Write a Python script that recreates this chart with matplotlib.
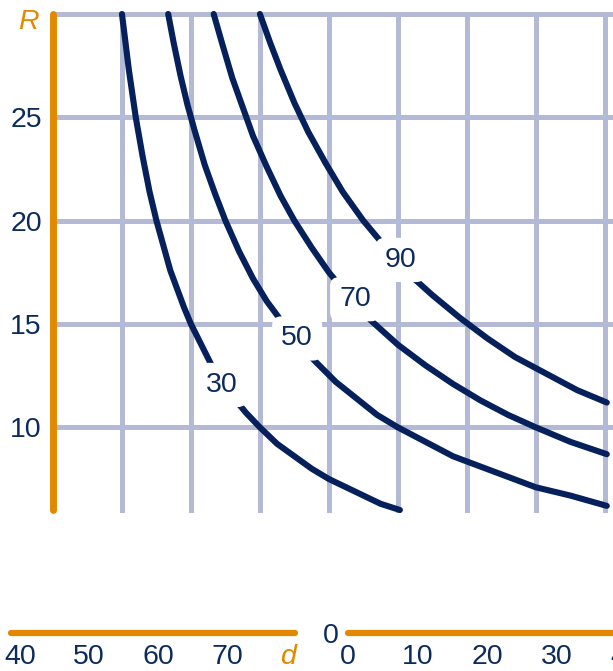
import matplotlib
matplotlib.use("Agg")
import matplotlib.pyplot as plt

plt.rcParams['font.family'] = ['Liberation Sans', 'DejaVu Sans']

NAVY = '#0c2b5c'
CURVE = '#05205a'
ORANGE = '#e38900'
GRID = '#b4b9d6'

x30 = [10, 11, 12, 13, 14, 15, 16, 17, 18, 19, 20, 21.5, 23, 24.5, 26, 28, 30,
       32.5, 35, 37.5, 40, 42.5, 45, 47.5, 50.3]
r30 = [30, 27.3, 25, 23.1, 21.4, 20, 18.8, 17.6, 16.7, 15.8, 15, 14, 13, 12.2,
       11.5, 10.7, 10, 9.2, 8.6, 8, 7.5, 7.1, 6.7, 6.3, 6.0]
x50 = [16.7, 17.5, 18.5, 19.5, 20.5, 22, 23.5, 25, 27, 29, 31, 33, 35.5, 38,
       41, 44, 47, 50, 54, 58, 62, 66, 70, 75, 80.3]
r50 = [30, 28.6, 27.0, 25.6, 24.4, 22.7, 21.3, 20, 18.5, 17.2, 16.1, 15.2, 14.1,
       13.2, 12.2, 11.4, 10.6, 10, 9.3, 8.6, 8.1, 7.6, 7.1, 6.7, 6.2]
x70 = [23.3, 24.5, 26, 27.5, 29, 31, 33, 35, 37.5, 40, 43, 46, 50, 54, 58, 62,
       66, 70, 75, 80.3]
r70 = [30, 28.6, 26.9, 25.5, 24.1, 22.6, 21.2, 20, 18.7, 17.5, 16.3, 15.2, 14,
       13, 12.1, 11.3, 10.6, 10, 9.3, 8.7]
x90 = [30, 31.5, 33, 35, 37, 39.5, 42, 45, 48, 51, 55, 59, 63, 67, 71.5, 76, 80.3]
r90 = [30, 28.6, 27.3, 25.7, 24.3, 22.8, 21.4, 20, 18.8, 17.6, 16.4, 15.3, 14.3,
       13.4, 12.6, 11.8, 11.2]

curve_labels = ['30', '50', '70', '90']
label_x = [24.5, 35.4, 43.8, 50.4]
label_r = [12.05, 14.3, 16.2, 18.1]

r_ticks = [10, 15, 20, 25]
r_grid = [10, 15, 20, 25, 30]
x_grid = [10, 20, 30, 40, 50, 60, 70, 80]

d_left_ticks = [40, 50, 60, 70]
d_right_ticks = [0, 10, 20, 30]

fig = plt.figure(figsize=(6.13, 6.71), dpi=100)

# main chart
ax = fig.add_axes([53 / 613, 1 - 510 / 671, 1 - 53 / 613, (510 - 14) / 671])
ax.set_xlim(0, 81.2)
ax.set_ylim(6, 30)
for r in r_grid:
    ax.axhline(r, color=GRID, lw=3.6, clip_on=False, zorder=1)
for x in x_grid:
    ax.axvline(x, color=GRID, lw=3.6, clip_on=False, zorder=1)

for xs, rs in [(x30, r30), (x50, r50), (x70, r70), (x90, r90)]:
    ax.plot(xs, rs, color=CURVE, lw=4.4, solid_capstyle='round',
            solid_joinstyle='round', clip_on=False, zorder=3)

for lab, lx, lr in zip(curve_labels, label_x, label_r):
    ax.text(lx, lr, lab, fontsize=20.5, color=NAVY, ha='center', va='center',
            zorder=5, bbox=dict(boxstyle='round,pad=0.32', fc='white', ec='none'))

for s in ['top', 'right', 'bottom']:
    ax.spines[s].set_visible(False)
ax.spines['left'].set_color(ORANGE)
ax.spines['left'].set_linewidth(5)
ax.spines['left'].set_capstyle('round')
ax.spines['left'].set_zorder(4)
ax.set_xticks([])
ax.set_yticks(r_ticks)
ax.set_yticklabels([str(t) for t in r_ticks])
ax.tick_params(axis='y', length=0, pad=8, labelsize=20.5, labelcolor=NAVY)
fig.text(28 / 613, 1 - 22 / 671, 'R', fontsize=20.5, color=ORANGE,
         style='italic', ha='center', va='center')


def bottom_axis(left_px, right_px, xmin, xmax, ticks):
    a = fig.add_axes([left_px / 613, 1 - 633 / 671, (right_px - left_px) / 613, 0.01])
    a.set_xlim(xmin, xmax)
    a.set_ylim(0, 1)
    for s in ['top', 'right', 'left']:
        a.spines[s].set_visible(False)
    a.spines['bottom'].set_color(ORANGE)
    a.spines['bottom'].set_linewidth(4.5)
    a.spines['bottom'].set_capstyle('round')
    a.set_xticks(ticks)
    a.set_xticklabels([str(t) for t in ticks])
    a.tick_params(axis='x', direction='in', length=2, width=2, color=ORANGE,
                  pad=8, labelsize=20.5, labelcolor=NAVY)
    a.patch.set_visible(False)
    return a


ax2 = bottom_axis(11, 295, 40 - 9 / 6.92, 40 + 275 / 6.92, d_left_ticks)
ax2.set_yticks([])
fig.text(288 / 613, 1 - 657 / 671, 'd', fontsize=20.5, color=ORANGE,
         style='italic', ha='center', va='center')

ax3 = bottom_axis(348, 613, 0, 265 / 6.95, d_right_ticks)
ax3.set_yticks([0])
ax3.set_yticklabels(['0'])
ax3.tick_params(axis='y', length=0, pad=7, labelsize=20.5, labelcolor=NAVY)
# the next tick label runs off the right edge of the picture
ax3.annotate('40', xy=(40, 0), xycoords=ax3.get_xaxis_transform(),
             xytext=(0, -17), textcoords='offset points', fontsize=20.5,
             color=NAVY, ha='center', va='center', annotation_clip=False)

fig.savefig('out.png', dpi=100)
